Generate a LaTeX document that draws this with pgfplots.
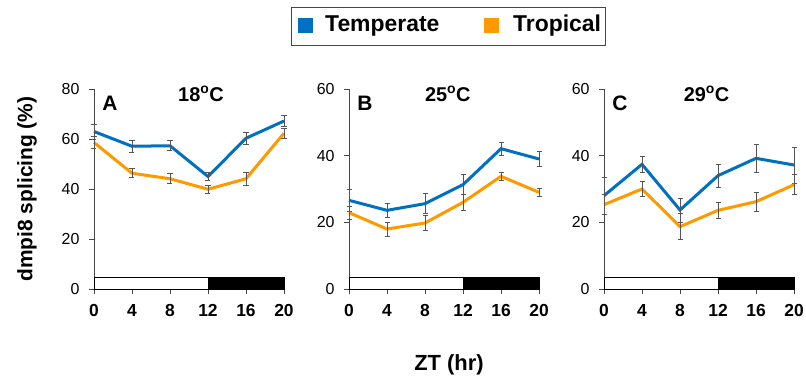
\documentclass[border=0pt]{standalone}
\usepackage{pgfplots}
\pgfplotsset{compat=1.18}
\usepackage{fontspec}
\setmainfont{Liberation Sans}
\definecolor{cblue}{RGB}{0,112,192}
\definecolor{corange}{RGB}{255,153,0}
\definecolor{errgray}{RGB}{85,85,85}
\definecolor{axgray}{RGB}{70,70,70}

\pgfplotsset{
  panel/.style={
    scale only axis, width=190bp, height=200bp,
    xmin=0, xmax=20, ymin=0,
    axis x line*=bottom, axis y line*=left,
    axis line style={axgray, line width=0.8bp, -},
    xtick={0,4,...,20},
    tick align=outside, major tick length=5bp,
    tick style={axgray, line width=0.8bp},
    xticklabel style={font=\fontsize{17.5}{20}\selectfont\bfseries, yshift=-7bp},
    yticklabel style={font=\fontsize{16}{18}\selectfont, xshift=-6bp},
    /pgf/number format/assume math mode=true,
    clip=false,
  },
  ser/.style={color=#1, line width=3bp, mark=none,
    error bars/.cd, y dir=both, y explicit,
    error bar style={errgray, line width=0.7bp},
    error mark options={errgray, line width=0.7bp, mark size=2.5bp, rotate=90}},
}
\tikzset{
  letter/.style={anchor=west, font=\fontsize{21}{24}\selectfont\bfseries},
  ttl/.style={font=\fontsize{20}{22}\selectfont\bfseries},
}

\begin{document}
\begin{tikzpicture}
\useasboundingbox (-94bp,-88bp) rectangle (712bp,289bp);

% Panel A
\begin{axis}[panel, at={(0bp,0bp)}, anchor=origin, ymax=80, ytick={0,20,40,60,80}]
\addplot[draw=black, fill=white, line width=0.6bp] coordinates {(0,4.5) (12,4.5)} \closedcycle;
\addplot[draw=black, fill=black, line width=0.6bp] coordinates {(12,4.5) (20,4.5)} \closedcycle;
\addplot[ser=cblue] table[x=x, y=y, y error=e] {
x y e
0 63.0 3.0
4 57.1 2.3
8 57.3 2.0
12 45.0 1.5
16 60.3 2.5
20 67.2 2.3
};
\addplot[ser=corange] table[x=x, y=y, y error=e] {
x y e
0 58.6 2.5
4 46.3 1.8
8 44.1 2.0
12 39.9 1.7
16 44.1 2.7
20 62.3 2.0
};
\node[letter] at (rel axis cs:0.025,0.93) {A};
\node[ttl] at (rel axis cs:0.563,0.975) {18\textsuperscript{o}C};
\end{axis}

% Panel B
\begin{axis}[panel, at={(255bp,0bp)}, anchor=origin, ymax=60, ytick={0,20,40,60}]
\addplot[draw=black, fill=white, line width=0.6bp] coordinates {(0,3.4) (12,3.4)} \closedcycle;
\addplot[draw=black, fill=black, line width=0.6bp] coordinates {(12,3.4) (20,3.4)} \closedcycle;
\addplot[ser=cblue] table[x=x, y=y, y error=e] {
x y e
0 26.6 3.3
4 23.6 2.2
8 25.6 3.0
12 31.3 3.0
16 42.1 2.0
20 39.0 2.2
};
\addplot[ser=corange] table[x=x, y=y, y error=e] {
x y e
0 22.9 2.0
4 18.0 2.1
8 19.8 2.2
12 26.0 2.4
16 33.8 1.3
20 29.0 1.1
};
\node[letter] at (rel axis cs:0.025,0.93) {B};
\node[ttl] at (rel axis cs:0.52,0.975) {25\textsuperscript{o}C};
\end{axis}

% Panel C
\begin{axis}[panel, at={(510bp,0bp)}, anchor=origin, ymax=60, ytick={0,20,40,60}]
\addplot[draw=black, fill=white, line width=0.6bp] coordinates {(0,3.4) (12,3.4)} \closedcycle;
\addplot[draw=black, fill=black, line width=0.6bp] coordinates {(12,3.4) (20,3.4)} \closedcycle;
\addplot[ser=cblue] table[x=x, y=y, y error=e] {
x y e
0 28.0 5.5
4 37.4 2.5
8 23.7 3.6
12 34.0 3.5
16 39.2 4.2
20 37.2 5.4
};
\addplot[ser=corange] table[x=x, y=y, y error=e] {
x y e
0 25.3 3.0
4 30.0 2.3
8 18.7 3.9
12 23.6 2.4
16 26.2 2.9
20 31.3 3.0
};
\node[letter] at (rel axis cs:0.025,0.93) {C};
\node[ttl] at (rel axis cs:0.54,0.975) {29\textsuperscript{o}C};
\end{axis}

% Axis titles
\node[rotate=90, font=\fontsize{21}{24}\selectfont\bfseries] at (-67bp,100bp) {dmpi8 splicing (\%)};
\node[font=\fontsize{22}{24}\selectfont\bfseries] at (355bp,-76bp) {ZT (hr)};

% Legend
\draw[axgray, line width=0.9bp] (197bp,244bp) rectangle (511bp,282bp);
\fill[cblue] (204bp,255.5bp) rectangle +(15bp,15bp);
\node[anchor=west, inner sep=0pt, font=\fontsize{23}{25}\selectfont\bfseries] at (231bp,263bp) {Temperate};
\fill[corange] (390bp,255.5bp) rectangle +(15bp,15bp);
\node[anchor=west, inner sep=0pt, font=\fontsize{23}{25}\selectfont\bfseries] at (419bp,263bp) {Tropical};
\end{tikzpicture}
\end{document}
